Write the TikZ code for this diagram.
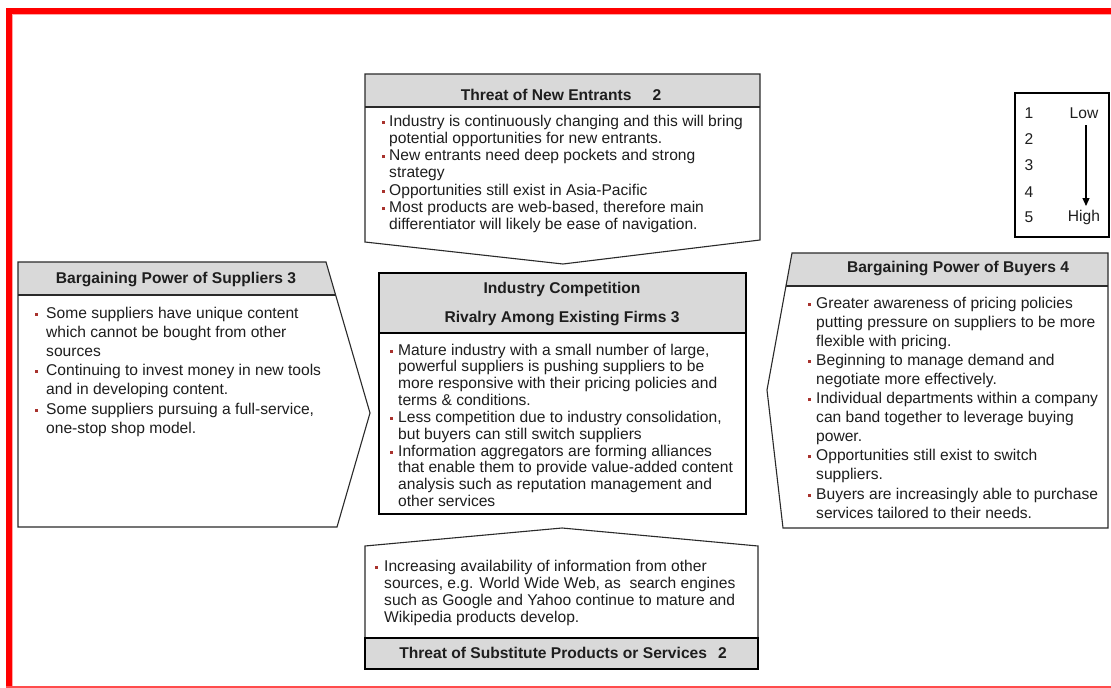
\documentclass[tikz,border=0pt]{standalone}
\usepackage{fontspec}
\setmainfont{Liberation Sans}
\usetikzlibrary{arrows.meta}
\definecolor{hdrgray}{HTML}{D9D9D9}
\definecolor{bulred}{HTML}{A8322D}
\definecolor{txt}{HTML}{1E1E1E}
\definecolor{framered}{HTML}{FF0000}
\definecolor{edgegray}{HTML}{2A2A2A}
\newlength\bulgap
\newcommand\bl{\makebox[0pt][r]{\textcolor{bulred}{\rule[2.5pt]{3pt}{3pt}}\hspace{\bulgap}}}
\begin{document}
\begin{tikzpicture}[x=1pt,y=-1pt,
  outline/.style={draw=edgegray, line width=1.1pt, line join=miter},
  strongline/.style={draw=black, line width=1.6pt},
  hdrfill/.style={fill=hdrgray},
  hdrtext/.style={font=\fontsize{15.6}{18}\selectfont\bfseries, text=txt, inner sep=0, anchor=center},
  bodytext/.style={inner sep=0, anchor=base west, text=txt},
  legtext/.style={font=\fontsize{15.6}{18}\selectfont, text=txt, inner sep=0, anchor=center}
]
\useasboundingbox (0,0) rectangle (1111,688);
\fill[white] (0,0) rectangle (1111,688);
% red frame
\fill[framered] (6,8) rectangle (1111,14);
\fill[framered] (6,8) rectangle (12,688);
\fill[red!35] (12,14) rectangle (1111,15);
\fill[red!35] (12,14) rectangle (13,686);
\fill[red!70] (6,686) rectangle (1111,688);

% ---------- Threat of New Entrants (top) ----------
\fill[hdrfill] (365,74) rectangle (760,107);
\draw[outline] (365,74) -- (760,74) -- (760,240) -- (563,264) -- (365,242) -- cycle;
\draw[outline] (365,107) -- (760,107);
\node[hdrtext] (hdrTop) at (561,95) {Threat of New Entrants\hspace{21pt}2};
\node[bodytext] (txtTop) at (389,126) {\setlength\bulgap{4.5pt}\parbox[t]{430pt}{\fontsize{15.6}{17.3}\selectfont\raggedright
\bl Industry is continuously changing and this will bring\\
potential opportunities for new entrants.\\
\bl New entrants need deep pockets and strong\\
strategy\\
\bl Opportunities still exist in Asia-Pacific\\
\bl Most products are web-based, therefore main\\
differentiator will likely be ease of navigation.}};

% ---------- Bargaining Power of Suppliers (left) ----------
\fill[hdrfill] (18,262) -- (326,262) -- (335.6,295) -- (18,295) -- cycle;
\draw[outline] (18,262) -- (326,262) -- (370,413) -- (337,527) -- (18,527) -- cycle;
\draw[outline] (18,295) -- (335.6,295);
\node[hdrtext] (hdrSup) at (176,279) {Bargaining Power of Suppliers 3};
\node[bodytext] (txtSup) at (46,318) {\setlength\bulgap{8pt}\parbox[t]{330pt}{\fontsize{15.6}{19.2}\selectfont\raggedright
\bl Some suppliers have unique content\\
which cannot be bought from other\\
sources\\
\bl Continuing to invest money in new tools\\
and in developing content.\\
\bl Some suppliers pursuing a full-service,\\
one-stop shop model.}};

% ---------- Industry Competition (centre) ----------
\fill[hdrfill] (379,273) rectangle (746,333);
\draw[strongline] (379,273) rectangle (746,514);
\draw[strongline] (379,333) -- (746,333);
\node[hdrtext] (hdrInd) at (562,289) {Industry Competition};
\node[hdrtext] (hdrRiv) at (562,318) {Rivalry Among Existing Firms 3};
\node[bodytext] (txtInd) at (398,355) {\setlength\bulgap{5pt}\parbox[t]{400pt}{\fontsize{15.6}{16.85}\selectfont\raggedright
\bl Mature industry with a small number of large,\\
powerful suppliers is pushing suppliers to be\\
more responsive with their pricing policies and\\
terms \& conditions.\\
\bl Less competition due to industry consolidation,\\
but buyers can still switch suppliers\\
\bl Information aggregators are forming alliances\\
that enable them to provide value-added content\\
analysis such as reputation management and\\
other services}};

% ---------- Bargaining Power of Buyers (right) ----------
\fill[hdrfill] (792,253) -- (1108,253) -- (1108,286) -- (785.5,286) -- cycle;
\draw[outline] (792,253) -- (1108,253) -- (1108,528) -- (783,528) -- (767,390) -- cycle;
\draw[outline] (785.5,286) -- (1108,286);
\node[hdrtext] (hdrBuy) at (958,268) {Bargaining Power of Buyers 4};
\node[bodytext] (txtBuy) at (816,308) {\setlength\bulgap{5pt}\parbox[t]{330pt}{\fontsize{15.6}{19.1}\selectfont\raggedright
\bl Greater awareness of pricing policies\\
putting pressure on suppliers to be more\\
flexible with pricing.\\
\bl Beginning to manage demand and\\
negotiate more effectively.\\
\bl Individual departments within a company\\
can band together to leverage buying\\
power.\\
\bl Opportunities still exist to switch\\
suppliers.\\
\bl Buyers are increasingly able to purchase\\
services tailored to their needs.}};

% ---------- Threat of Substitutes (bottom) ----------
\draw[outline] (365,546) -- (562,528) -- (758,546) -- (758,669) -- (365,669) -- cycle;
\fill[hdrfill] (365,638) rectangle (758,669);
\draw[strongline] (365,638) rectangle (758,669);
\node[hdrtext] (hdrSub) at (563,653) {Threat of Substitute Products or Services\hspace{11pt}2};
\node[bodytext] (txtSub) at (384,571) {\setlength\bulgap{6pt}\parbox[t]{420pt}{\fontsize{15.6}{17.3}\selectfont\raggedright
\bl Increasing availability of information from other\\
sources, e.g. World Wide Web, as\ \ search engines\\
such as Google and Yahoo continue to mature and\\
Wikipedia products develop.}};

% ---------- Legend ----------
\draw[black, line width=1.4pt] (1015,93) rectangle (1109,237);
\node[legtext] (l1) at (1029,113) {1};
\node[legtext] (l2) at (1029,139) {2};
\node[legtext] (l3) at (1029,165) {3};
\node[legtext] (l4) at (1029,192) {4};
\node[legtext] (l5) at (1029,217) {5};
\node[legtext] (lLow) at (1084,113) {Low};
\node[legtext] (lHigh) at (1084,217) {High};
\coordinate (arrS) at (1086,125);
\coordinate (arrE) at (1086,206);
\draw[black, line width=1.2pt, -{Triangle[length=8pt,width=7pt]}] (arrS) -- (arrE);
\end{tikzpicture}
\end{document}
